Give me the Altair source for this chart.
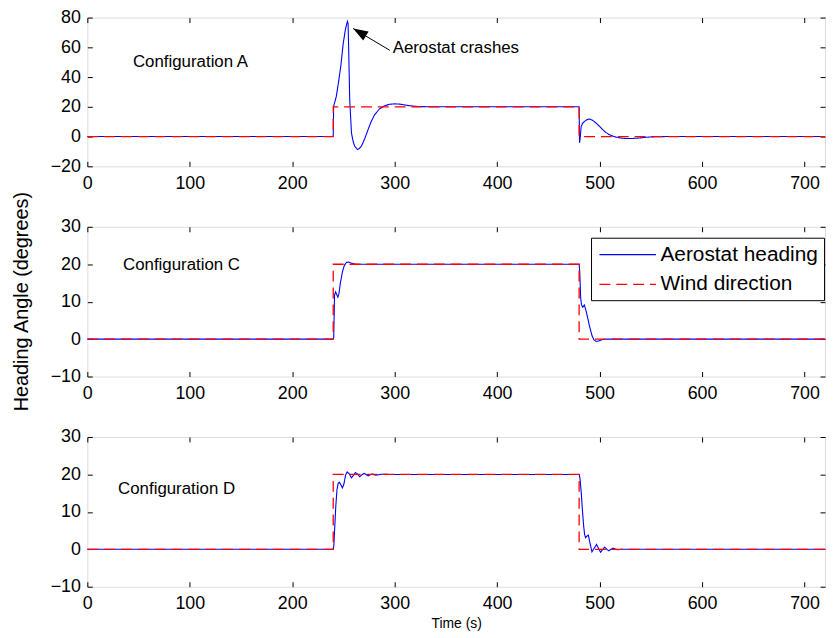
import altair as alt
import pandas as pd

FONT = "Liberation Sans"

# ---------------- data ----------------
x_ticks = [0, 100, 200, 300, 400, 500, 600, 700]
y_ticks_A = [-20, 0, 20, 40, 60, 80]
y_ticks_CD = [-10, 0, 10, 20, 30]

series_names = ["Aerostat heading", "Wind direction"]

wind_t = [0, 240, 240, 480, 480, 720]
wind_v = [0, 0, 20, 20, 0, 0]

time_A = [0, 240, 240.4, 243, 245, 247.5, 249.7, 252, 253.9, 254.5, 255.2, 256.1,
          257.8, 259.5, 261, 263.6, 265.5, 267.5, 271, 274, 277, 280.4, 285, 290,
          295, 299.8, 305, 309.4, 315, 320, 330, 340, 480, 480.4, 481, 482, 483.5,
          485.3, 487.5, 490.1, 493, 496.6, 500, 503, 506, 509.5, 513, 516, 520,
          525.6, 531, 538, 545, 551, 564, 720]
heading_A = [0, 0, 20.3, 27, 35.8, 48, 62.4, 72.5, 77.5, 76, 55, 24.7,
             2.4, -3.5, -6.5, -8.7, -8, -6.5, -1, 4.7, 10, 14.7, 18.5, 20.7,
             21.7, 22, 21.8, 21.3, 20.7, 20.3, 20.1, 20, 20, -4.2, -1, 6.9, 9,
             10.2, 11.3, 11.8, 11, 9.1, 6.8, 4.7, 2.8, 1.3, 0.3, -0.4, -0.9,
             -1.3, -1.3, -1, -0.5, -0.2, 0, 0]

time_C = [0, 240, 240.5, 241.3, 242.3, 243.3, 244.5, 245.5, 247, 249, 251, 253,
          255, 257.5, 262, 480, 480.6, 481.5, 482.3, 483.6, 485.1, 486.7, 488.5,
          490, 491.5, 492.7, 494.5, 496.5, 499, 503, 508, 720]
heading_C = [0, 0, 0.5, 11.8, 12.6, 12, 11.2, 12, 15, 18, 19.8, 20.5,
             20.6, 20.3, 20, 20, 18, 11, 9.2, 8.5, 9.1, 7.6, 5.5,
             3.6, 2, 0.8, -0.2, -0.6, -0.5, -0.1, 0, 0]

time_D = [0, 240, 240.6, 241.5, 242.5, 243.7, 244.9, 246, 247.5, 249, 250.5, 252,
          253.6, 255.5, 257.8, 259.8, 261.7, 263.8, 265.9, 268, 270.1, 272, 274,
          276, 277.8, 282, 287, 295, 480, 480.8, 482, 483.2, 484.3, 485.3, 486.3,
          487.5, 489, 490.5, 492.5, 494.5, 497, 499, 501, 503, 505, 507, 509, 511,
          513, 517, 522, 720]
heading_D = [0, 0, 1, 6, 11.5, 16, 17.7, 17.9, 17.2, 16.4, 17.5, 19.8,
             20.7, 20.2, 19.1, 19.8, 20.5, 20.1, 19.4, 19.9, 20.3, 20.0, 19.6,
             19.9, 20.1, 19.8, 20.05, 20, 20, 19, 15.4, 10.5, 6.6, 4, 3.1,
             3.5, 3.8, 1.8, -0.7, 0.2, 1.3, 0.2, -0.8, 0, 0.6, 0, -0.4, 0,
             0.3, -0.1, 0, 0]

panel_labels = ["Configuration A", "Configuration C", "Configuration D"]
label_t = [44.5, 34.8, 30]
label_v = [50, 19.7, 16.2]

annot_text = "Aerostat crashes"
annot_t, annot_v = 298, 59.3
arrow_tail = (295.2, 58)
arrow_tip = (259.4, 72.7)

y_title = "Heading Angle (degrees)"
x_title = "Time (s)"


def line_df(t, v, name):
    return pd.DataFrame({"t": t, "v": v, "series": name, "i": list(range(len(t)))})


color_scale = alt.Scale(domain=series_names, range=["#0000ff", "#ff0000"])
dash_scale = alt.Scale(domain=series_names, range=[[1, 0], [11, 6]])
x_scale = alt.Scale(domain=[0, 720], nice=False, zero=False)

common_axis = dict(domain=False, grid=False, tickColor="black", tickSize=5, tickWidth=1,
                   offset=-5, labelFont=FONT, labelFontSize=18, labelColor="black",
                   labelFlush=False, labelOverlap=False, minExtent=0)


def panel(t, v, ydom, yticks, label_idx, legend_on, xtitle, h, extra=None):
    y_scale = alt.Scale(domain=ydom, nice=False, zero=False)
    x_bottom = alt.Axis(values=x_ticks, orient="bottom", labelPadding=8,
                        title=x_title if xtitle else None, titleFont=FONT,
                        titleFontSize=14, titleFontWeight="normal", titleColor="black",
                        titlePadding=4, **common_axis)
    y_left = alt.Axis(values=yticks, orient="left", labelPadding=7, title=None,
                      **common_axis)
    x_top = alt.Axis(values=x_ticks, orient="top", labels=False, title=None,
                     maxExtent=0, **common_axis)
    y_right = alt.Axis(values=yticks, orient="right", labels=False, title=None,
                       maxExtent=0, **common_axis)

    if legend_on:
        leg = alt.Legend(orient="none", legendX=508, legendY=11, title=None,
                         strokeColor="black", fillColor="white", padding=6,
                         labelFont=FONT, labelFontSize=21, labelColor="black",
                         symbolType="M-2.85,0L2.85,0", symbolSize=400,
                         symbolStrokeWidth=1.3, symbolOffset=20,
                         labelLimit=0, labelOffset=22, rowPadding=9, cornerRadius=0)
    else:
        leg = None

    heading = alt.Chart(line_df(t, v, series_names[0])).mark_line(strokeWidth=1.1).encode(
        x=alt.X("t:Q", scale=x_scale, axis=x_bottom),
        y=alt.Y("v:Q", scale=y_scale, axis=y_left),
        color=alt.Color("series:N", scale=color_scale, legend=leg),
        strokeDash=alt.StrokeDash("series:N", scale=dash_scale, legend=leg),
        order="i:Q",
    )
    wind = alt.Chart(line_df(wind_t, wind_v, series_names[1])).mark_line(strokeWidth=1.3).encode(
        x=alt.X("t:Q", scale=x_scale, axis=x_top),
        y=alt.Y("v:Q", scale=y_scale, axis=y_right),
        color=alt.Color("series:N", scale=color_scale, legend=leg),
        strokeDash=alt.StrokeDash("series:N", scale=dash_scale, legend=leg),
        order="i:Q",
    )
    lab_df = pd.DataFrame({"t": [label_t[label_idx]], "v": [label_v[label_idx]],
                           "txt": [panel_labels[label_idx]]})
    lab = alt.Chart(lab_df).mark_text(align="left", baseline="middle", font=FONT,
                                      fontSize=17, color="black").encode(
        x=alt.X("t:Q", scale=x_scale, axis=None),
        y=alt.Y("v:Q", scale=y_scale, axis=None),
        text="txt:N",
    )
    layers = [heading, wind, lab]
    if extra is not None:
        layers += extra(y_scale)
    return alt.layer(*layers).resolve_axis(x="independent", y="independent").properties(
        width=744, height=h)


def annotation(y_scale):
    tdf = pd.DataFrame({"t": [annot_t], "v": [annot_v], "txt": [annot_text]})
    txt = alt.Chart(tdf).mark_text(align="left", baseline="middle", font=FONT,
                                   fontSize=17, color="black").encode(
        x=alt.X("t:Q", scale=x_scale, axis=None),
        y=alt.Y("v:Q", scale=y_scale, axis=None),
        text="txt:N",
    )
    adf = pd.DataFrame({"t": [arrow_tail[0]], "v": [arrow_tail[1]],
                        "t2": [arrow_tip[0]], "v2": [arrow_tip[1]]})
    rule = alt.Chart(adf).mark_rule(color="black", strokeWidth=1).encode(
        x=alt.X("t:Q", scale=x_scale, axis=None),
        y=alt.Y("v:Q", scale=y_scale, axis=None),
        x2="t2:Q", y2="v2:Q",
    )
    hdf = pd.DataFrame({"t": [arrow_tip[0]], "v": [arrow_tip[1]]})
    head = alt.Chart(hdf).mark_point(shape="M0,0L-0.35,1L0.35,1Z", size=900, angle=300.7,
                                     filled=True, color="black", opacity=1,
                                     strokeWidth=0).encode(
        x=alt.X("t:Q", scale=x_scale, axis=None),
        y=alt.Y("v:Q", scale=y_scale, axis=None),
    )
    return [rule, head, txt]


pA = panel(time_A, heading_A, [-20, 80], y_ticks_A, 0, False, False, 150, extra=annotation)
pC = panel(time_C, heading_C, [-10, 30], y_ticks_CD, 1, True, False, 151)
pD = panel(time_D, heading_D, [-10, 30], y_ticks_CD, 2, False, True, 151)

chart = alt.vconcat(pA, pC, pD, spacing=24).resolve_scale(
    color="independent", strokeDash="independent"
).properties(
    title=alt.TitleParams(y_title, orient="left", anchor="middle", font=FONT,
                          fontSize=20, fontWeight="normal", color="black",
                          offset=18, dx=18),
    padding={"left": 3, "top": -3, "right": 0, "bottom": 0},
).configure_view(stroke="black", strokeWidth=1).configure(background="white")

chart.save("out.html", embed_options={"renderer": "svg", "actions": False})
